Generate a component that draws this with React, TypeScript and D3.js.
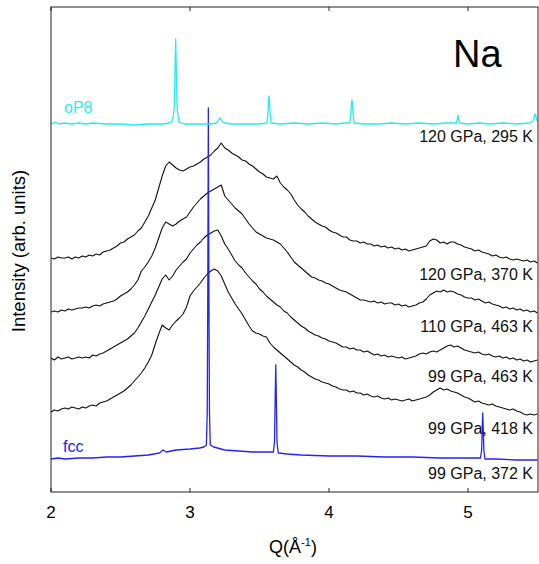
import React from 'react'
import * as d3 from 'd3'

// Q grid (Å^-1) on which the liquid patterns are sampled
const qGrid = d3.range(0, 141).map(i => +(2 + i * 0.025).toFixed(3))

const xTicks = [2, 3, 4, 5]

// liquid patterns, arbitrary intensity (offset already included)
const liq120_370 = [
    234, 233, 235, 234, 234, 235, 233, 235, 234, 236,
    235, 237, 236, 238, 237, 240, 241, 242, 244, 246,
    249, 250, 253, 255, 257, 261, 264, 270, 276, 284,
    292, 304, 316, 326, 330, 327, 324, 322, 321, 323,
    325, 326, 328, 330, 333, 335, 337, 341, 344, 349,
    344, 342, 339, 337, 335, 332, 331, 328, 326, 323,
    320, 318, 315, 314, 313, 316, 309, 305, 302, 298,
    292, 287, 283, 280, 276, 273, 270, 268, 266, 265,
    262, 260, 259, 257, 255, 255, 252, 251, 251, 249,
    250, 248, 248, 246, 247, 245, 246, 244, 245, 243,
    244, 242, 243, 241, 242, 243, 244, 245, 246, 251,
    253, 252, 249, 250, 248, 250, 250, 248, 247, 245,
    244, 243, 241, 242, 240, 239, 238, 236, 237, 235,
    234, 235, 233, 232, 233, 232, 231, 232, 230, 231,
    229,
]
const liq110_463 = [
    180, 181, 180, 182, 181, 183, 182, 183, 184, 184,
    185, 184, 186, 187, 186, 188, 189, 190, 191, 193,
    196, 198, 200, 203, 207, 212, 221, 225, 230, 236,
    244, 254, 264, 270, 268, 266, 268, 271, 273, 275,
    280, 285, 289, 293, 296, 299, 301, 303, 305, 307,
    296, 292, 288, 284, 281, 278, 273, 268, 264, 260,
    258, 256, 254, 253, 252, 250, 248, 244, 240, 235,
    230, 227, 224, 221, 218, 215, 214, 212, 211, 209,
    208, 206, 204, 202, 201, 200, 198, 196, 194, 192,
    192, 191, 190, 191, 189, 190, 188, 189, 189, 187,
    188, 186, 187, 185, 186, 187, 189, 190, 193, 197,
    199, 201, 200, 202, 200, 201, 200, 198, 197, 195,
    194, 194, 192, 193, 191, 189, 190, 188, 187, 186,
    184, 185, 183, 184, 182, 183, 181, 182, 180, 181,
    179,
]
const liq99_463 = [
    134, 132, 135, 133, 134, 135, 133, 134, 135, 134,
    135, 134, 137, 136, 138, 139, 141, 143, 145, 147,
    149, 151, 153, 156, 159, 164, 170, 176, 183, 190,
    197, 205, 213, 217, 212, 216, 222, 226, 230, 233,
    239, 243, 247, 250, 254, 257, 259, 261, 262, 256,
    248, 243, 237, 231, 227, 224, 219, 215, 211, 208,
    203, 200, 196, 193, 190, 187, 185, 181, 179, 175,
    172, 169, 166, 164, 161, 159, 157, 156, 154, 153,
    151, 150, 149, 147, 145, 145, 143, 144, 142, 142,
    140, 141, 139, 137, 138, 136, 137, 135, 136, 135,
    134, 135, 133, 134, 135, 136, 138, 139, 138, 140,
    141, 140, 142, 144, 146, 147, 145, 146, 144, 142,
    141, 140, 139, 140, 138, 137, 138, 136, 135, 136,
    134, 135, 133, 134, 132, 133, 131, 132, 130, 131,
    132,
]
const liq99_418 = [
    80, 82, 81, 83, 84, 83, 85, 84, 83, 85,
    84, 86, 87, 86, 89, 90, 91, 93, 95, 97,
    99, 101, 104, 107, 111, 115, 119, 124, 130, 137,
    148, 158, 167, 164, 162, 167, 171, 174, 178, 185,
    196, 201, 205, 209, 214, 218, 221, 223, 221, 216,
    208, 200, 194, 188, 183, 178, 172, 166, 161, 159,
    158, 156, 155, 149, 145, 142, 139, 136, 133, 130,
    127, 125, 122, 120, 117, 115, 113, 112, 110, 109,
    108, 106, 105, 103, 102, 102, 100, 101, 99, 99,
    97, 98, 96, 95, 96, 94, 93, 94, 92, 93,
    92, 91, 92, 93, 91, 92, 93, 94, 95, 97,
    100, 102, 104, 102, 103, 101, 100, 99, 97, 95,
    94, 92, 90, 91, 89, 88, 87, 88, 86, 85,
    84, 83, 82, 83, 81, 80, 78, 77, 78, 77,
    78,
]

// crystalline patterns as [Q, intensity]
const fcc99_372: [number, number][] = [
    [2.00, 33], [2.05, 34], [2.10, 33], [2.20, 34], [2.30, 34], [2.40, 35], [2.50, 35],
    [2.60, 36], [2.70, 37], [2.78, 39], [2.806, 42], [2.83, 40], [2.90, 42], [3.00, 43],
    [3.07, 44], [3.10, 45], [3.118, 47], [3.124, 80], [3.128, 200], [3.132, 384],
    [3.136, 200], [3.140, 80], [3.146, 47], [3.17, 45], [3.25, 42], [3.35, 41],
    [3.45, 40], [3.55, 40], [3.600, 40], [3.608, 50], [3.613, 95], [3.617, 127],
    [3.621, 95], [3.626, 50], [3.635, 39], [3.70, 38], [3.80, 37], [4.00, 36],
    [4.20, 36], [4.40, 35], [4.60, 35], [4.80, 34], [5.00, 34], [5.090, 34],
    [5.098, 42], [5.102, 62], [5.106, 79], [5.110, 62], [5.114, 42], [5.122, 33],
    [5.20, 33], [5.35, 32], [5.50, 32],
]
const oP8_120_295: [number, number][] = [
    [2.00, 368], [2.03, 370], [2.06, 368], [2.10, 369], [2.15, 368], [2.20, 369],
    [2.25, 368], [2.30, 369], [2.40, 368], [2.50, 368], [2.60, 367], [2.70, 368],
    [2.80, 368], [2.85, 369], [2.875, 371], [2.887, 385], [2.892, 420], [2.897, 453],
    [2.902, 420], [2.907, 385], [2.92, 370], [2.96, 368], [3.00, 368], [3.10, 368],
    [3.15, 368], [3.19, 369], [3.205, 372], [3.216, 374], [3.23, 371], [3.25, 369],
    [3.30, 368], [3.40, 368], [3.50, 368], [3.553, 369], [3.561, 380], [3.565, 392],
    [3.568, 396], [3.571, 392], [3.575, 380], [3.583, 369], [3.65, 368], [3.75, 369],
    [3.85, 368], [3.95, 369], [4.05, 368], [4.12, 369], [4.150, 369], [4.158, 380],
    [4.162, 389], [4.165, 392], [4.168, 389], [4.172, 380], [4.180, 369], [4.25, 368],
    [4.35, 368], [4.45, 369], [4.55, 368], [4.65, 369], [4.75, 368], [4.85, 369],
    [4.915, 369], [4.924, 373], [4.928, 377], [4.932, 373], [4.941, 369], [5.00, 368],
    [5.08, 369], [5.15, 368], [5.25, 369], [5.35, 368], [5.44, 369], [5.470, 371],
    [5.477, 376], [5.482, 378], [5.488, 376], [5.495, 372], [5.50, 371],
]

const conditions = [
    '120 GPa, 295 K',
    '120 GPa, 370 K',
    '110 GPa, 463 K',
    '99 GPa, 463 K',
    '99 GPa, 418 K',
    '99 GPa, 372 K',
]

const W = 539
const H = 564
const left = 51
const right = 538
const top = 7
const bottom = 492

const App = () => {
    const x = d3.scaleLinear().domain([2, 5.5]).range([left, 537.5])
    const y = d3.scaleLinear().domain([0, 485]).range([bottom, top])

    const line = d3.line<[number, number]>()
        .x(d => x(d[0]))
        .y(d => y(d[1]))

    const liquids = [liq120_370, liq110_463, liq99_463, liq99_418]
        .map(vals => vals.map((v, i) => [qGrid[i], v] as [number, number]))

    const labelY = [142, 280, 332, 382, 434, 479]
    const font = 'Liberation Sans, Arial, sans-serif'

    return (
        <div style={{ position: 'absolute', left: 0, top: 0 }}>
            <svg width={W} height={H} style={{ display: 'block', background: '#fff' }} fontFamily={font}>
                <defs>
                    <clipPath id="plot">
                        <rect x={left} y={top} width={right - left} height={bottom - top} />
                    </clipPath>
                </defs>
                <g clipPath="url(#plot)" fill="none" strokeLinejoin="round">
                    {liquids.map((d, i) => (
                        <path key={i} d={line(d)!} stroke="#111" strokeWidth={1.1} />
                    ))}
                    <path d={line(fcc99_372)!} stroke="#2222ff" strokeWidth={1.3} />
                    <path d={line(oP8_120_295)!} stroke="#22eeee" strokeWidth={1.3} />
                </g>
                <rect x={left} y={top} width={right - left} height={bottom - top}
                    fill="none" stroke="#222" strokeWidth={1} />
                {xTicks.map(t => (
                    <g key={t}>
                        <line x1={x(t)} x2={x(t)} y1={bottom} y2={bottom - 4} stroke="#222" />
                        <line x1={x(t)} x2={x(t)} y1={top} y2={top + 4} stroke="#222" />
                        <text x={x(t)} y={518} textAnchor="middle" fontSize={17}>{t}</text>
                    </g>
                ))}
                <text x={293} y={553} textAnchor="middle" fontSize={18}>
                    Q(Å<tspan dy={-7} fontSize={11}>-1</tspan><tspan dy={7}>)</tspan>
                </text>
                <text transform="translate(25,251) rotate(-90)" textAnchor="middle" fontSize={18.5}>
                    Intensity (arb. units)
                </text>
                <text x={453} y={67} fontSize={38}>Na</text>
                <text x={64} y={113} fontSize={16} fill="#22eeee">oP8</text>
                <text x={63} y={452} fontSize={16} fill="#2222ff">fcc</text>
                {conditions.map((c, i) => (
                    <text key={c} x={533} y={labelY[i]} textAnchor="end" fontSize={16} fill="#111">{c}</text>
                ))}
            </svg>
        </div>
    )
}

export default App
